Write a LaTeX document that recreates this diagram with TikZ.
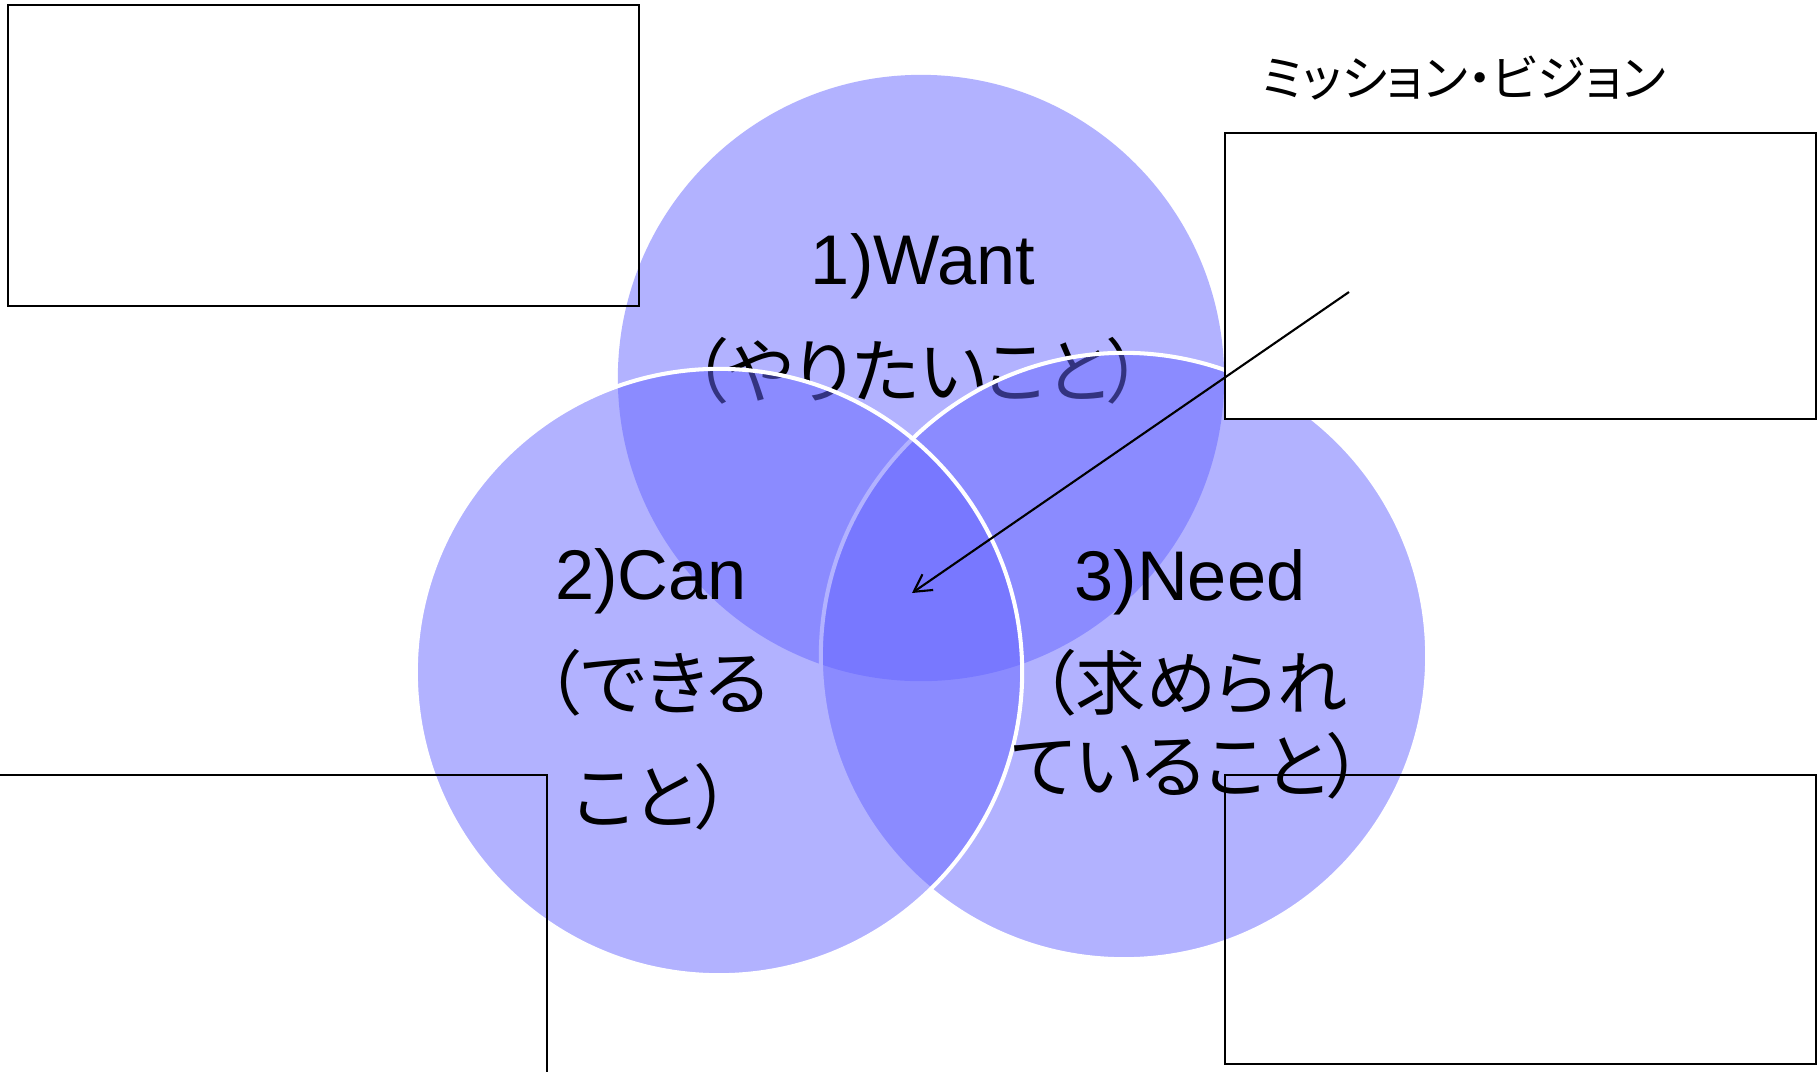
\documentclass[tikz,border=0pt]{standalone}
\usepackage{fontspec}
\setmainfont{Liberation Sans}
\newfontfamily\jp{Noto Sans CJK JP}[RawFeature={+palt}]
\usetikzlibrary{arrows.meta}
\definecolor{vblue}{RGB}{102,102,255}
\begin{document}
\begin{tikzpicture}[x=0.01cm,y=-0.01cm,
  vcirc/.style={circle, minimum size=6.06cm, inner sep=0, fill=vblue, fill opacity=0.5},
  vedge/.style={draw=white, line width=1.15pt},
  box/.style={draw=black, line width=0.5pt, inner sep=0, outer sep=0, anchor=north west},
  boxline/.style={draw=black, line width=0.5pt},
  lat/.style={font=\fontsize{20}{24}\selectfont, inner sep=0, anchor=base},
  jpn/.style={font=\jp\fontsize{20}{24}\selectfont, inner sep=0},
  title/.style={font=\jp\fontsize{14}{17}\selectfont, inner sep=0},
  pointer/.style={draw=black, line width=0.6pt, -{Straight Barb[length=1.7mm,width=1.9mm]}}]
\useasboundingbox (0,0) rectangle (1818,1072);
\clip (0,0) rectangle (1818,1072);
\fill[white] (0,0) rectangle (1818,1072);
% top circle and its text
\node[vcirc] (want) at (921,378) {};
\node[lat] (wantA) at (923,284) {1)Want};
\node[jpn] (wantB) at (918,371) {（やりたいこと）};
% right and left circles
\node[vcirc, vedge] (need) at (1124,656) {};
\node[vcirc, vedge] (can) at (719,672) {};
% boxes
\node[box, fill=white, minimum width=5.91cm, minimum height=2.86cm] (boxTR) at (1225,133) {};
\node[box, minimum width=6.31cm, minimum height=3.01cm] (boxTL) at (8,5) {};
\node[box, minimum width=5.91cm, minimum height=2.89cm] (boxBR) at (1225,775) {};
\coordinate (blA) at (0,775);
\coordinate (blB) at (547,775);
\coordinate (blC) at (547,1072);
\draw[boxline] (blA) -- (blB) -- (blC);
% arrow
\coordinate (arrowstart) at (1349,292);
\coordinate (arrowtip) at (912,593);
\draw[pointer] (arrowstart) -- (arrowtip);
% texts
\node[title] (mv) at (1464,78) {ミッション・ビジョン};
\node[lat] (canA) at (651,599) {2)Can};
\node[jpn] (canB) at (657,683) {（できる};
\node[jpn] (canC) at (652,797) {こと）};
\node[lat] (needA) at (1190,600) {3)Need};
\node[jpn] (needB) at (1194,683) {（求められ};
\node[jpn] (needC) at (1187,766) {ていること）};
\end{tikzpicture}
\end{document}
